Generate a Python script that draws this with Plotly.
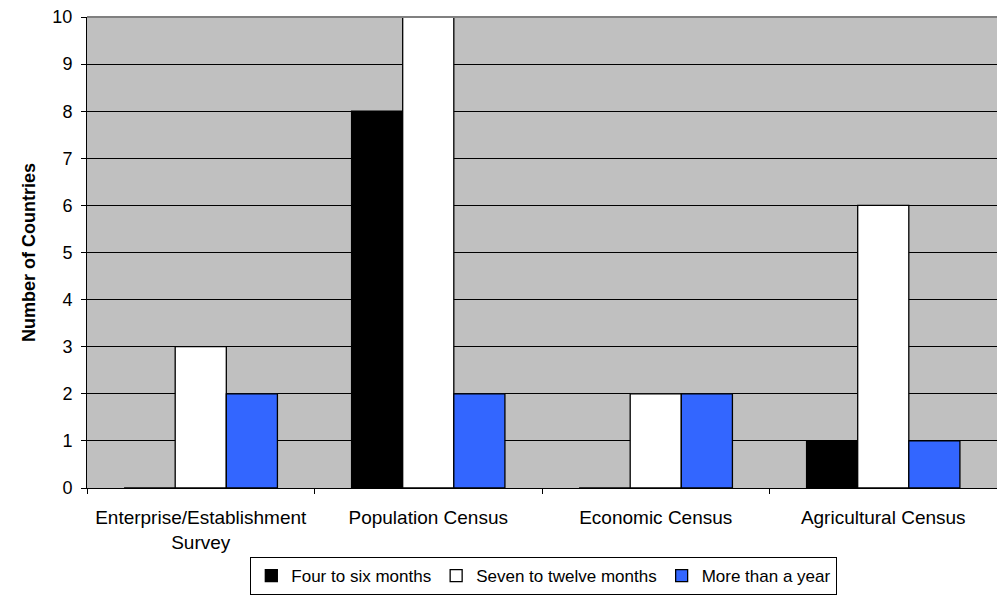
import plotly.graph_objects as go

categories = ["Enterprise/Establishment<br>Survey", "Population Census", "Economic Census", "Agricultural Census"]
four_to_six = [0, 8, 0, 1]
seven_to_twelve = [3, 10, 2, 6]
more_than_year = [2, 2, 2, 1]
y_ticks = list(range(0, 11))

series = [
    ("Four to six months", four_to_six, "#000000"),
    ("Seven to twelve months", seven_to_twelve, "#FFFFFF"),
    ("More than a year", more_than_year, "#3366FF"),
]

font_family = "Liberation Sans, Arial, sans-serif"

fig = go.Figure()
for name, vals, color in series:
    fig.add_trace(go.Bar(
        x=categories, y=vals, name=name,
        marker=dict(color=color, line=dict(color="#000000", width=1.3)),
    ))

fig.update_layout(
    width=997, height=615,
    margin=dict(l=87, r=0, t=17, b=127),
    paper_bgcolor="#FFFFFF",
    plot_bgcolor="#C0C0C0",
    barmode="group",
    bargap=0.326,
    bargroupgap=0,
    font=dict(family=font_family, size=18, color="#000000"),
    showlegend=True,
    legend=dict(
        orientation="h",
        x=0.502, xanchor="center",
        y=-0.187, yanchor="middle",
        bordercolor="#000000", borderwidth=1,
        font=dict(size=17),
        itemwidth=30,
        tracegroupgap=0,
        traceorder="normal",
    ),
    xaxis=dict(
        type="category",
        showline=True, linecolor="#000000", linewidth=1,
        ticks="outside", ticklen=5, tickcolor="#000000",
        tickson="boundaries",
        showgrid=False,
        tickfont=dict(size=19),
        ticklabelstandoff=12,
    ),
    yaxis=dict(
        range=[0, 10],
        tickvals=y_ticks,
        showline=True, linecolor="#000000", linewidth=1,
        ticks="outside", ticklen=5, tickcolor="#000000",
        showgrid=True, gridcolor="#000000", gridwidth=1,
        zeroline=False,
        tickfont=dict(size=18),
        ticklabelstandoff=5,
        title=dict(text="<b>Number of Countries</b>", font=dict(size=18), standoff=12),
    ),
    shapes=[
        dict(type="line", xref="paper", yref="paper", x0=0, x1=1, y0=1, y1=1,
             line=dict(color="#808080", width=2)),
    ],
)

fig.write_html("out.html")
